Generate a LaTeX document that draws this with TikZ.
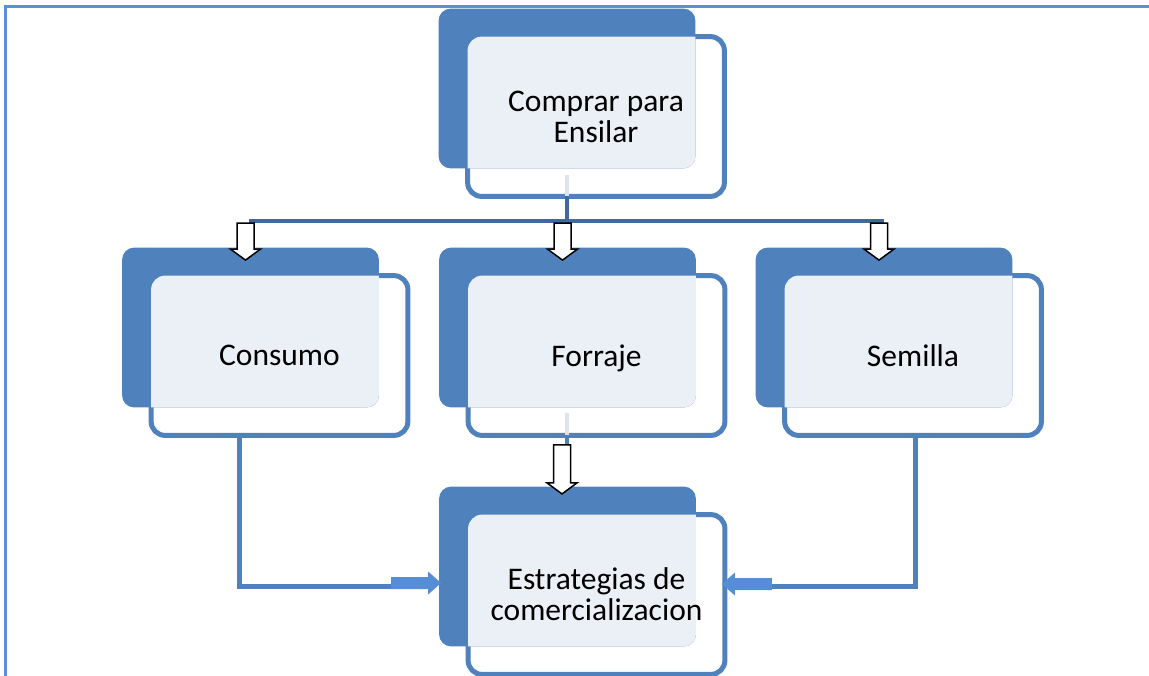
\documentclass[tikz,border=0pt]{standalone}
\usepackage{fontspec}
\setmainfont{Carlito}
\usetikzlibrary{backgrounds}
\definecolor{boxblue}{HTML}{4F81BD}
\definecolor{boxlight}{HTML}{EBF0F7}
\definecolor{trunkblue}{HTML}{43699C}
\definecolor{arrowblue}{HTML}{558ED5}
\definecolor{stemlight}{HTML}{DCE4F0}
\definecolor{frameblue}{HTML}{5B8FD9}
\tikzset{
  pics/hollowdown/.style={code={
    \draw[black, fill=white, line width=0.75pt] (-8.5,0) -- (8.5,0) -- (8.5,{#1-11}) -- (15,{#1-11})
      -- (0,#1) -- (-15,{#1-11}) -- (-8.5,{#1-11}) -- cycle;
  }},
  pics/blockright/.style={code={
    \fill[arrowblue] (-50,-6) -- (-13,-6) -- (-13,-11.5) -- (0,0) -- (-13,11.5) -- (-13,6) -- (-50,6) -- cycle;
  }},
}
\begin{document}
\begin{tikzpicture}[x=0.5pt, y=-0.5pt,
  box/.style={rectangle, inner sep=0pt, minimum width=128pt, minimum height=79.5pt,
    align=center, font=\fontsize{15.75pt}{15.5pt}\selectfont},
  frontline/.style={draw=boxblue, fill=white, line width=2.5pt, rounded corners=7pt},
  backfill/.style={fill=boxblue, rounded corners=6pt},
  trunk/.style={draw=trunkblue, line width=2pt},
  stem/.style={draw=stemlight, line width=2pt},
  link/.style={draw=boxblue, line width=2.5pt}]
\useasboundingbox (0,0) rectangle (1149,675);
\draw[frameblue, line width=1.5pt] (5.5,6) rectangle (1170,700);

% boxes
\node[box] (top) at (596,116.5) {Comprar para\\Ensilar};
\node[box] (cons) at (279.5,355.5) {Consumo};
\node[box, text depth=0pt] (forr) at (596.5,355.5) {Forraje};
\node[box] (sem) at (913,355.5) {Semilla};
\node[box] (est) at (596.5,594.5) {Estrategias de\\comercializacion};

\begin{scope}[on background layer]
  \foreach \n in {top,cons,forr,sem,est} {
    \draw[frontline] (\n.north west) rectangle (\n.south east);
    \fill[backfill] ([shift={(-29,-28)}]\n.north west) rectangle ([shift={(-29,-28)}]\n.south east);
    \begin{scope}
      \clip[rounded corners=6pt] ([shift={(-29,-28)}]\n.north west) rectangle ([shift={(-29,-28)}]\n.south east);
      \fill[boxlight, rounded corners=7pt] (\n.north west) rectangle (\n.south east);
    \end{scope}
  }
\end{scope}

% top to row
\draw[stem] ([shift={(-29,-21.5)}]top.south) -- ([shift={(-29,0)}]top.south);
\draw[trunk] ([shift={(-29,0)}]top.south) -- ++(0,26.5);
\draw[trunk] ([shift={(-31,-54.5)}]cons.north) -- ([shift={(-29,-54.5)}]sem.north);
\foreach \n in {cons,forr,sem}
  \pic at ([shift={(-34,-52.5)}]\n.north) {hollowdown=37};

% forraje to estrategias
\draw[stem] ([shift={(-29.5,-22.5)}]forr.south) -- ([shift={(-29.5,0)}]forr.south);
\draw[link, line width=2pt] ([shift={(-29.5,0)}]forr.south) -- ++(0,9.5);
\pic at ([shift={(-34.5,9.5)}]forr.south) {hollowdown=49};

% sides
\coordinate (ltip) at ([shift={(-27,-11.5)}]est.west);
\coordinate (rtip) at ([shift={(-3,-10.5)}]est.east);
\draw[link] ([shift={(-40.5,0)}]cons.south) |- ([shift={(-48,3)}]ltip);
\draw[link] ([shift={(2,0)}]sem.south) |- ([shift={(48,2)}]rtip);
\pic at (ltip) {blockright};
\pic[rotate=180] at (rtip) {blockright};
\end{tikzpicture}
\end{document}
